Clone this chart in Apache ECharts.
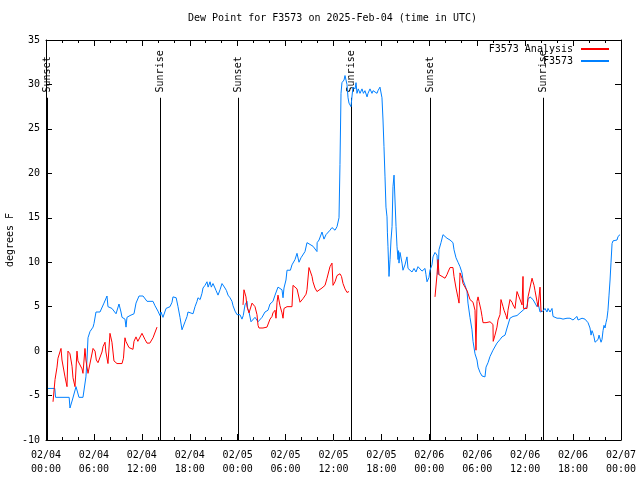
<!DOCTYPE html>
<html><head><meta charset="utf-8">
<script src="https://cdn.jsdelivr.net/npm/echarts@6/dist/echarts.min.js"></script>
<style>html,body{margin:0;padding:0;background:#fff}#c{width:640px;height:480px}</style>
</head><body><div id="c"></div>
<script>
// hours since 2025-02-04 00:00 UTC
const xTickLabels = ['02/04\n00:00','02/04\n06:00','02/04\n12:00','02/04\n18:00','02/05\n00:00','02/05\n06:00','02/05\n12:00','02/05\n18:00','02/06\n00:00','02/06\n06:00','02/06\n12:00','02/06\n18:00','02/07\n00:00'];
const sunTimes = [0.15, 14.27, 24.04, 38.19, 48.08, 62.23];
const sunNames = ['Sunset','Sunrise','Sunset','Sunrise','Sunset','Sunrise'];

const stationObs = [[0.25,-4.2],[1.1,-4.2],[1.2,-5.2],[2.9,-5.2],[3.0,-6.4],[3.3,-5.5],[3.76,-4.0],[4.13,-5.2],[4.63,-5.2],[5.0,-2.9],[5.13,-1.0],[5.26,1.5],[5.51,2.2],[5.89,2.7],[6.01,3.1],[6.26,4.4],[6.76,4.4],[7.01,4.2],[7.26,5.4],[7.64,6.2],[7.76,5.0],[8.26,4.8],[8.51,4.6],[8.77,4.2],[9.14,5.3],[9.39,4.4],[9.52,3.8],[9.89,3.6],[10.02,2.7],[10.14,3.8],[10.52,4.0],[11.02,4.2],[11.27,5.4],[11.65,6.2],[12.15,6.2],[12.65,5.6],[13.40,5.6],[13.65,5.1],[14.02,4.5],[14.27,4.0],[14.40,4.4],[14.65,3.8],[15.03,4.8],[15.28,5.0],[15.53,5.0],[15.78,5.5],[15.90,6.1],[16.30,6.0],[16.40,5.8],[16.53,5.0],[16.78,3.8],[17.03,2.4],[17.16,2.5],[17.41,3.3],[17.66,3.9],[17.78,4.4],[18.0,4.2],[18.41,4.2],[18.66,5.0],[18.91,5.6],[19.03,6.0],[19.3,5.8],[19.53,6.5],[19.66,7.1],[19.91,7.4],[20.16,7.8],[20.3,7.2],[20.54,7.8],[20.7,7.2],[20.91,7.6],[21.16,7.1],[21.3,6.8],[21.54,6.3],[21.79,6.9],[22.04,7.6],[22.2,7.4],[22.41,7.1],[22.6,6.8],[22.79,6.3],[23.04,6.0],[23.29,5.6],[23.42,5.1],[23.67,4.5],[23.92,4.1],[24.1,4.3],[24.29,4.1],[24.54,3.6],[24.7,4.0],[24.92,5.2],[25.17,5.6],[25.25,4.8],[25.42,4.4],[25.67,3.3],[25.92,3.1],[26.17,3.8],[26.42,3.6],[26.55,3.3],[26.8,3.5],[27.05,3.8],[27.17,3.9],[27.42,4.4],[27.67,4.4],[27.80,4.6],[28.05,5.3],[28.2,5.1],[28.42,5.6],[28.68,6.3],[28.85,6.3],[29.05,7.2],[29.30,7.1],[29.55,6.9],[29.68,6.0],[29.80,7.1],[30.05,8.0],[30.18,9.1],[30.43,9.3],[30.6,9.1],[30.80,9.7],[30.93,9.7],[31.18,10.3],[31.43,11.0],[31.56,11.1],[31.68,10.0],[31.93,10.5],[32.18,10.6],[32.43,11.2],[32.68,12.2],[33.06,12.0],[33.43,11.8],[33.6,12.0],[33.93,11.2],[33.95,12.2],[34.19,12.5],[34.56,13.4],[34.69,13.3],[34.81,12.6],[35.06,13.1],[35.31,13.3],[35.56,13.6],[35.81,13.9],[36.0,13.9],[36.19,13.6],[36.44,14.0],[36.56,13.9],[36.69,15.0],[36.81,21.0],[36.94,29.0],[37.06,30.2],[37.19,30.0],[37.32,30.5],[37.44,31.0],[37.56,31.0],[37.69,30.0],[37.82,28.5],[37.94,27.9],[38.19,27.5],[38.32,28.7],[38.44,29.7],[38.7,29.5],[38.82,30.2],[38.94,29.0],[39.1,29.5],[39.32,29.0],[39.57,29.5],[39.75,29.0],[39.94,29.3],[40.20,28.6],[40.32,29.0],[40.57,29.5],[40.82,29.0],[40.95,29.3],[41.2,29.5],[41.45,29.0],[41.57,29.3],[41.82,29.7],[42.07,28.5],[42.20,26.0],[42.32,23.0],[42.45,19.6],[42.57,16.2],[42.70,15.1],[42.75,13.3],[42.82,11.8],[42.95,8.4],[43.08,10.3],[43.20,12.5],[43.33,14.0],[43.45,18.5],[43.58,19.8],[43.70,17.0],[43.83,14.0],[43.95,11.8],[44.08,10.3],[44.15,11.3],[44.20,9.9],[44.33,11.1],[44.58,9.9],[44.70,9.1],[44.95,9.7],[45.20,10.6],[45.33,9.3],[45.58,9.3],[45.83,8.9],[46.08,9.3],[46.33,8.9],[46.58,9.5],[46.83,9.7],[47.08,9.0],[47.33,8.9],[47.46,9.3],[47.58,8.6],[47.71,7.8],[47.96,8.3],[48.08,9.1],[48.33,9.7],[48.46,10.6],[48.71,11.1],[48.96,10.8],[49.09,8.6],[49.21,11.4],[49.46,12.2],[49.71,13.1],[49.96,13.1],[50.21,12.7],[50.59,12.5],[50.96,12.2],[51.09,11.4],[51.34,10.5],[51.59,10.0],[51.84,9.5],[52.09,8.8],[52.22,8.0],[52.47,7.4],[52.72,6.7],[52.84,5.4],[53.09,3.8],[53.34,2.4],[53.47,1.1],[53.72,-0.3],[53.97,-1.0],[54.10,-1.8],[54.35,-2.4],[54.60,-2.8],[54.72,-2.9],[54.97,-2.9],[55.10,-1.8],[55.35,-1.3],[55.60,-0.6],[55.85,-0.4],[55.97,0.1],[56.22,0.3],[56.47,0.9],[56.85,1.3],[57.10,1.6],[57.48,1.8],[57.73,2.6],[58.10,3.7],[58.48,3.9],[58.98,4.0],[59.35,4.3],[59.73,4.6],[59.98,4.6],[60.23,5.0],[60.36,5.8],[60.61,6.1],[60.86,6.0],[60.98,5.8],[61.23,5.8],[61.48,5.0],[61.61,5.4],[61.86,4.4],[62.11,4.4],[62.23,4.5],[62.48,4.8],[62.73,4.4],[62.86,4.8],[63.11,4.4],[63.36,4.8],[63.49,3.9],[63.74,4.1],[63.99,3.7],[64.11,3.5],[64.36,3.7],[64.74,3.6],[65.24,3.7],[65.61,3.7],[65.86,3.7],[65.99,3.5],[66.24,3.7],[66.49,3.9],[66.62,3.5],[66.87,3.5],[67.12,3.7],[67.49,3.6],[67.74,3.5],[67.87,3.2],[68.12,2.6],[68.25,1.8],[68.37,2.3],[68.50,2.0],[68.62,1.6],[68.75,1.0],[69.00,1.0],[69.12,1.3],[69.25,1.8],[69.50,1.0],[69.62,1.3],[69.75,2.3],[69.87,2.9],[70.00,2.6],[70.12,3.2],[70.25,3.7],[70.37,4.6],[70.50,6.3],[70.63,8.0],[70.75,10.0],[70.88,12.1],[71.00,12.4],[71.25,12.5],[71.50,12.5],[71.63,12.9],[71.88,13.1]];

const analysisVals = [[0.88,-5.7],[1.13,-3.2],[1.38,-1.8],[1.50,-0.8],[1.88,0.3],[2.0,-1.0],[2.38,-2.9],[2.63,-4.0],[2.75,0.0],[3.0,-0.3],[3.26,-1.7],[3.38,-3.0],[3.63,-4.0],[3.88,0.0],[4.0,-1.1],[4.2,-1.1],[4.51,-2.0],[4.63,-2.5],[4.88,0.3],[5.0,-1.0],[5.26,-2.5],[5.4,-2.6],[5.89,0.3],[6.14,0.0],[6.3,-1.0],[6.51,-1.3],[6.76,-1.3],[7.01,-0.1],[7.14,0.5],[7.39,1.0],[7.5,-0.1],[7.76,-1.4],[8.01,2.0],[8.26,1.0],[8.51,-1.1],[8.89,-1.4],[9.52,-1.4],[9.7,-0.8],[9.89,1.5],[10.0,1.1],[10.39,0.4],[10.89,0.2],[11.02,1.1],[11.27,1.6],[11.5,1.1],[12.02,2.0],[12.40,1.3],[12.65,0.9],[13.0,0.9],[13.4,1.5],[13.90,2.7],
[19,null],
[24.67,5.2],[24.79,6.9],[25.04,6.1],[25.17,5.0],[25.42,4.3],[25.6,4.3],[25.80,5.4],[25.92,5.6],[26.17,5.0],[26.42,4.1],[26.55,2.9],[26.67,2.6],[27.17,2.6],[27.67,2.7],[27.8,2.9],[28.05,3.6],[28.30,3.9],[28.42,4.3],[28.68,4.6],[28.80,3.7],[28.93,5.5],[29.05,6.3],[29.30,5.1],[29.55,4.3],[29.68,3.7],[29.80,4.8],[30.18,5.0],[30.80,5.0],[30.93,7.4],[31.43,7.0],[31.6,6.8],[31.81,5.5],[31.93,5.4],[32.18,5.9],[32.56,6.4],[32.68,6.9],[32.93,9.4],[33.31,8.4],[33.43,7.8],[33.68,7.1],[33.93,6.7],[34.1,6.9],[34.56,7.1],[34.94,7.4],[35.19,8.2],[35.56,9.5],[35.81,9.9],[35.94,7.4],[36.19,7.8],[36.44,8.5],[36.81,8.7],[37.0,8.4],[37.19,7.6],[37.44,7.0],[37.69,6.6],[37.94,6.7],
[43,null],
[48.71,6.1],[48.96,8.6],[49.09,10.3],[49.21,8.6],[49.59,8.4],[49.96,8.2],[50.21,8.6],[50.34,8.9],[50.59,9.4],[50.84,9.5],[50.96,9.4],[51.09,8.4],[51.34,7.1],[51.59,6.0],[51.72,5.4],[51.84,8.8],[52.09,8.2],[52.22,7.6],[52.47,7.4],[52.72,6.8],[52.84,6.5],[53.09,5.8],[53.34,5.6],[53.47,5.5],[53.72,4.6],[53.84,0.1],[53.97,5.6],[54.10,6.1],[54.22,5.6],[54.47,4.6],[54.60,3.9],[54.72,3.2],[55.10,3.2],[55.22,3.3],[55.60,3.3],[55.85,3.2],[55.97,3.0],[56.0,1.1],[56.22,1.8],[56.47,2.7],[56.60,3.5],[56.85,4.1],[56.97,5.8],[57.23,5.0],[57.35,4.6],[57.60,4.0],[57.73,3.6],[57.85,4.6],[58.10,5.8],[58.35,5.5],[58.48,5.2],[58.73,4.8],[58.85,4.6],[58.98,6.7],[59.23,6.1],[59.48,5.9],[59.61,5.2],[59.73,8.4],[59.79,4.8],[59.98,4.6],[60.23,4.8],[60.36,6.1],[60.61,6.0],[60.86,8.2],[60.98,7.8],[61.11,7.4],[61.23,6.8],[61.48,5.6],[61.61,5.0],[61.73,4.8],[61.86,7.2],[61.98,4.5],[62.11,4.5]];

const FONT = 'DejaVu Sans Mono';
const LINE_TOP = 28.5, LABEL_BASE = 29.1;

const chart = echarts.init(document.getElementById('c'), null, {renderer:'canvas'});
const axisCommon = {
  type:'value', min:0, max:72, interval:6,
  axisLine:{show:true, onZero:false, lineStyle:{color:'#000', width:1}},
  axisTick:{show:true, inside:true, length:6, lineStyle:{color:'#000'}},
  minorTick:{show:true, splitNumber:3, length:3, lineStyle:{color:'#000'}},
  splitLine:{show:false}
};
const yCommon = {
  type:'value', min:-10, max:35, interval:5,
  axisLine:{show:true, onZero:false, lineStyle:{color:'#000', width:1}},
  axisTick:{show:true, inside:true, length:6, lineStyle:{color:'#000'}},
  splitLine:{show:false}
};
const legendCommon = {right:31, align:'right', orient:'vertical', itemWidth:28, itemHeight:2, itemGap:8, icon:'rect', padding:0,
  textStyle:{fontFamily:FONT, fontSize:10, color:'#000', padding:[0,3,0,0]}};
chart.setOption({
  animation:false,
  backgroundColor:'#fff',
  title:{text:'Dew Point for F3573 on 2025-Feb-04 (time in UTC)', left:188, top:13, padding:0,
    textStyle:{fontFamily:FONT, fontSize:10, fontWeight:'normal', color:'#000'}},
  grid:{left:46, right:19, top:40, bottom:40, containLabel:false, outerBoundsMode:'none'},
  legend:[
    Object.assign({}, legendCommon, {data:['F3573 Analysis'], top:44}),
    Object.assign({}, legendCommon, {data:['F3573'], top:56})
  ],
  xAxis:[
    Object.assign({}, axisCommon, {position:'bottom',
      axisLabel:{show:true, margin:8, fontFamily:FONT, fontSize:10, color:'#000', lineHeight:14,
        formatter:(v)=>xTickLabels[Math.round(v/6)]}}),
    Object.assign({}, axisCommon, {position:'top', axisLabel:{show:false}})
  ],
  yAxis:[
    Object.assign({}, yCommon, {position:'left', name:'degrees F', nameLocation:'middle', nameGap:36, nameRotate:90,
      nameMoveOverlap:false,
      nameTextStyle:{fontFamily:FONT, fontSize:10, color:'#000', verticalAlign:'middle'},
      axisLabel:{show:true, margin:6, fontFamily:FONT, fontSize:10, color:'#000'}}),
    Object.assign({}, yCommon, {position:'right', axisLabel:{show:false}})
  ],
  series:[
    {type:'custom', name:'sun', xAxisIndex:0, yAxisIndex:0, z:1,
      data:sunTimes.map(t=>[t,0]), encode:{x:0,y:1},
      renderItem:function(params, api){
        const t = api.value(0);
        const b = api.coord([t,-10]);
        const tp = api.coord([t,LINE_TOP]);
        const lb = api.coord([t,LABEL_BASE]);
        const x = Math.round(b[0]) + 0.5;
        return {type:'group', children:[
          {type:'line', shape:{x1:x, y1:b[1], x2:x, y2:tp[1]}, style:{stroke:'#000', lineWidth:1}},
          {type:'text', x:x, y:lb[1], rotation:Math.PI/2,
            style:{text:sunNames[params.dataIndex], fill:'#000', font:'10px "'+FONT+'"', align:'left', verticalAlign:'middle'}}
        ]};
      }},
    {type:'line', name:'F3573', data:stationObs, showSymbol:false, symbol:'none', z:3,
      lineStyle:{color:'#0080ff', width:1}, itemStyle:{color:'#0080ff'}},
    {type:'line', name:'F3573 Analysis', data:analysisVals, showSymbol:false, symbol:'none', connectNulls:false, z:4,
      lineStyle:{color:'#ff0000', width:1}, itemStyle:{color:'#ff0000'}}
  ]
});
</script></body></html>
